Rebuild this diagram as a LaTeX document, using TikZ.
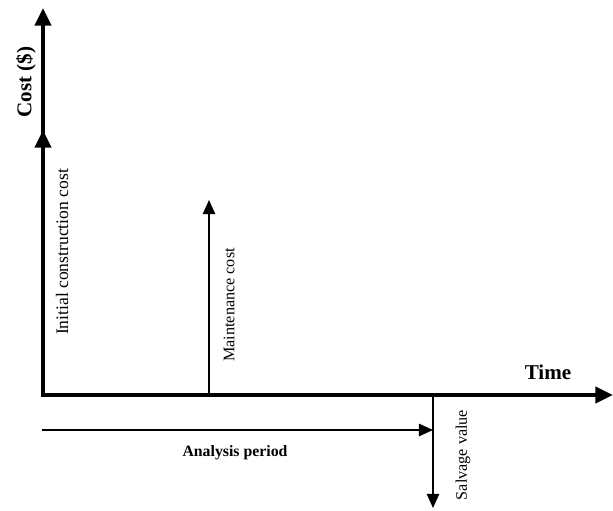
\documentclass[tikz,border=0pt]{standalone}
\usepackage{fontspec}
\setmainfont{Liberation Serif}
\usetikzlibrary{arrows.meta}
\begin{document}
\begin{tikzpicture}[x=0.02cm,y=-0.02cm,
  axis/.style={line width=2.8pt,line cap=rect,-{Triangle[width=9pt,length=10pt]}},
  flow/.style={line width=1pt,-{Triangle[width=7pt,length=8pt]}},
  lbl/.style={font=\fontsize{9.2}{11}\selectfont},
  ttl/.style={font=\fontsize{12}{14}\selectfont\bfseries}]
\useasboundingbox (0,0) rectangle (613,511);
\coordinate (o) at (43,395);
\coordinate (ytop) at (43,8);
\coordinate (xend) at (613,395);
\coordinate (ic) at (43,130);
\coordinate (mb) at (209,395);\coordinate (mt) at (209,200);
\coordinate (sb) at (433,395);\coordinate (st) at (433,508);
\coordinate (pa) at (42,430);\coordinate (pb) at (433,430);
% axes
\draw[axis] (o) -- (ytop);
\draw[axis] (o) -- (ic);
\draw[axis] (o) -- (xend);
% cash flows
\draw[flow] (mb) -- (mt);
\draw[flow] (sb) -- (st);
\draw[flow] (pa) -- (pb);
\node[ttl,rotate=90] (cost) at (26,82) {Cost (\$)};
\node[ttl] (time) at (548,372) {Time};
\node[font=\fontsize{10}{12}\selectfont,rotate=90] (icc) at (62,252) {Initial construction cost};
\node[lbl,rotate=90] (mc) at (229,305) {Maintenance cost};
\node[lbl,rotate=90] (sv) at (463,455) {Salvage value};
\node[font=\fontsize{9}{11}\selectfont\bfseries] (ap) at (235,453) {Analysis period};
\end{tikzpicture}
\end{document}
